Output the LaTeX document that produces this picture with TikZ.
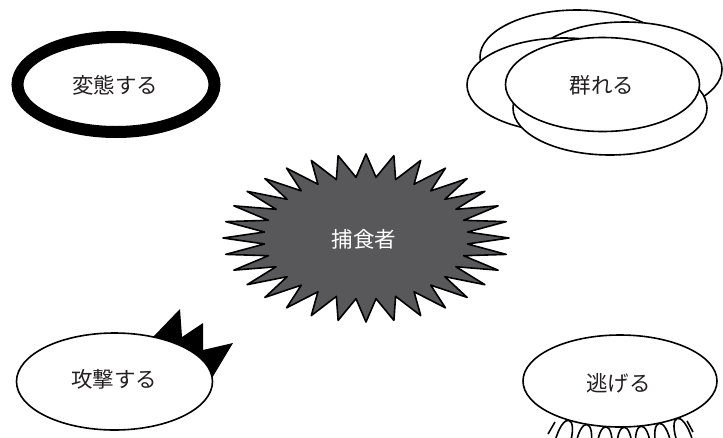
\documentclass[tikz,border=0pt]{standalone}
\usepackage{fontspec}
\newfontfamily\jpfont{Noto Sans CJK JP}
\definecolor{txt}{HTML}{231F20}
\definecolor{burst}{RGB}{88,88,90}
\begin{document}
\begin{tikzpicture}[x=1pt,y=-1pt,
  lbl/.style={font=\jpfont\fontsize{21.5}{25}\selectfont, text=txt, inner sep=0pt},
  bub/.style={draw=black, line width=1.6pt, fill=white},
  fringe/.style={draw=black, line width=1.6pt}]
\useasboundingbox (0,0) rectangle (723,437);
\clip (0,0) rectangle (723,437);

% --- 変態する : thick outlined ellipse
\draw[line width=12pt, draw=black, fill=white] (116,84.5) ellipse [x radius=98.5, y radius=47.5];
\node[lbl] (henta) at (115,85) {変態する};

% --- 群れる : stacked ellipses
\foreach \p in {(577,57),(625,69),(564,85),(610,108),(602.5,84.5)}
  \draw[bub] \p ellipse [x radius=97, y radius=47];
\node[lbl] (mure) at (602,85.5) {群れる};

% --- 捕食者 : starburst
\begin{scope}[shift={(366,238)}]
  \draw[line width=1.6pt, draw=black, fill=burst, line join=round]
    (0:143 and 84)
    \foreach \i in {0,...,31} { -- ({\i*11.25+5.625}:102 and 61) -- ({(\i+1)*11.25}:143 and 84) } -- cycle;
\end{scope}
\node[lbl, text=white] (pred) at (364,239) {捕食者};

% --- 攻撃する : ellipse with spikes
\fill[black] (153,337) -- (180,309) -- (182,337) -- (203,323) -- (203,350)
  -- (233,343) -- (212,378) -- (170,370) -- cycle;
\draw[bub] (114.5,381.5) ellipse [x radius=98, y radius=48.5];
\node[lbl] (attack) at (114,379) {攻撃する};

% --- 逃げる : ellipse with fringe
\foreach \t/\r in {-121.7/-16.3, -109.9/-9.7, -98.3/-4, -87.6/1.1, -77.5/6, -66.3/11.8, -54/19}
  \draw[fringe, shift={({620+97*cos(\t)},{381-46*sin(\t)})}, rotate=\r]
    (-7.5,25) .. controls (-8.5,-8) and (8.5,-8) .. (7.5,25);
\coordinate (tl1) at (555,422);
\coordinate (tl2) at (548,434);
\coordinate (tr1) at (687,421);
\coordinate (tr2) at (693,432);
\draw[fringe] (tl1) -- (tl2);
\draw[fringe] (tr1) -- (tr2);
\draw[bub] (620,381) ellipse [x radius=97, y radius=46];
\node[lbl] (nige) at (618.5,383) {逃げる};
\end{tikzpicture}
\end{document}
